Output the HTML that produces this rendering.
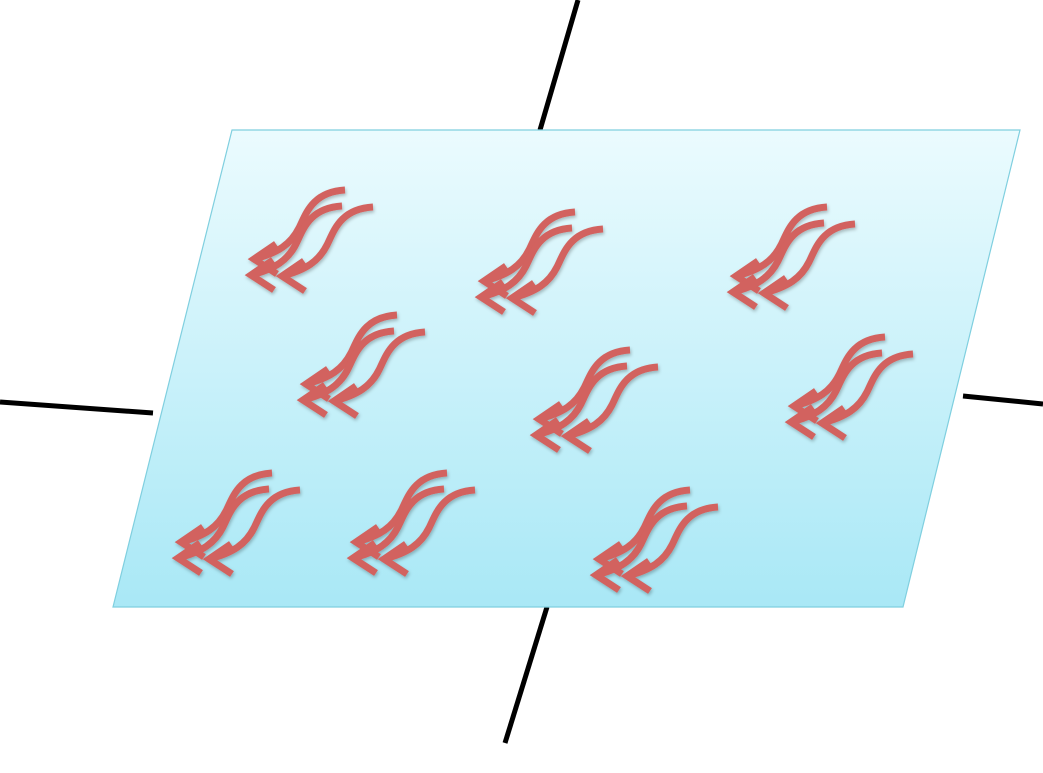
<!DOCTYPE html>
<html><head><meta charset="utf-8"><style>html,body{margin:0;padding:0;background:#fff}svg{display:block}</style></head>
<body>
<svg width="1043" height="773" viewBox="0 0 1043 773">
<defs>
<linearGradient id="g" x1="0" y1="0" x2="0" y2="1"><stop offset="0" stop-color="#ebfbfe"/><stop offset="1" stop-color="#a9e8f6"/></linearGradient>
<filter id="sh" x="-20%" y="-20%" width="140%" height="140%"><feDropShadow dx="1" dy="2" stdDeviation="1.5" flood-color="#000" flood-opacity="0.25"/></filter>
</defs>
<g stroke="#000" stroke-width="5">
<line x1="578" y1="0" x2="540" y2="130"/>
<line x1="547" y1="607" x2="505" y2="743"/>
<line x1="0" y1="402" x2="153" y2="413"/>
<line x1="963" y1="396" x2="1043" y2="404"/>
</g>
<polygon points="232,130 1020,130 903,607 113,607" fill="url(#g)" stroke="#7fcfdf" stroke-width="1.2"/>
<g id="arrows"></g>
<script>
const groupX=[345,575,827,397,630,885,272,447,690];
const groupY=[190,212,207,315,350,337,473,473,490];
const offs=[[0,0],[-3,16],[28,17]];
const g=document.getElementById('arrows');
const ns='http://www.w3.org/2000/svg';
groupX.forEach((x,i)=>{
  const grp=document.createElementNS(ns,'g');
  
  
  grp.setAttribute('transform','translate('+(x-95)+','+groupY[i]+')');
  grp.setAttribute('filter','url(#sh)');
  offs.forEach(o=>{
    const p=document.createElementNS(ns,'path');
    
    
    p.setAttribute('d','M95,0 C62,2 56,24 49,38 C41,54 28,63 4,69 M26,54 L4,69 L27,84');
    p.setAttribute('transform','translate('+o[0]+','+o[1]+')');
    p.setAttribute('fill','none');
    p.setAttribute('stroke','#d2625e');
    p.setAttribute('stroke-width','7');
    p.setAttribute('stroke-linejoin','miter');
    grp.appendChild(p);
  });
  g.appendChild(grp);
});
</script>
</svg>
</body></html>
